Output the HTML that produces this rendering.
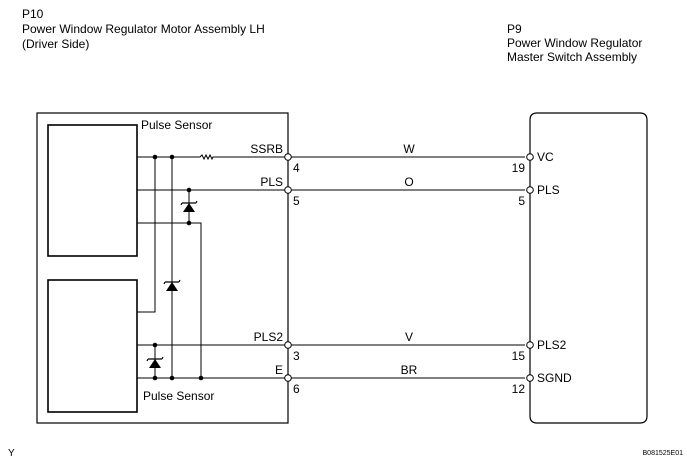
<!DOCTYPE html>
<html><head><style>
body{margin:0;background:#fff;}
svg{display:block;font-family:"Liberation Sans",sans-serif;}
</style></head><body>
<svg width="687" height="464" viewBox="0 0 687 464">
<g font-size="12" fill="#000">
<text x="22" y="18">P10</text>
<text x="22" y="33">Power Window Regulator Motor Assembly LH</text>
<text x="22" y="48">(Driver Side)</text>
<text x="507" y="33">P9</text>
<text x="507" y="47">Power Window Regulator</text>
<text x="507" y="61">Master Switch Assembly</text>
</g>
<g stroke="#000" fill="none" stroke-width="1.2">
<rect x="37" y="113" width="251" height="310"/>
<rect x="48" y="125" width="89" height="131" stroke-width="1.6"/>
<rect x="48" y="280" width="89" height="132" stroke-width="1.6"/>
<path d="M537 113 H640 Q647 113 647 120 V416 Q647 423 640 423 H537 Q530 423 530 416 V120 Q530 113 537 113 Z"/>
</g>
<g stroke="#000" fill="none" stroke-width="1">
<path d="M137 157 H200 l2 -2 l2 4 l2 -4 l2 4 l2 -4 l2 4 l1 -2 H525"/>
<path d="M137 190 H525"/>
<path d="M137 345 H525"/>
<path d="M137 378 H525"/>
<path d="M155 157 V312 H137"/>
<path d="M172 157 V378"/>
<path d="M189 190 V223"/>
<path d="M137 223 H201 V378"/>
<path d="M155 345 V378"/>
</g>
<g fill="#000">
<circle cx="155" cy="157" r="2.3"/><circle cx="172" cy="157" r="2.3"/>
<circle cx="189" cy="190" r="2.3"/><circle cx="189" cy="223" r="2.3"/>
<circle cx="155" cy="345" r="2.3"/><circle cx="155" cy="378" r="2.3"/>
<circle cx="172" cy="378" r="2.3"/><circle cx="201" cy="378" r="2.3"/>
<polygon points="183,212 195,212 189,203"/>
<polygon points="166,291 178,291 172,282"/>
<polygon points="149,368 161,368 155,359"/>
</g>
<g stroke="#000" stroke-width="1.2">
<path d="M182 203 H196 M182 203 l-1 2 M196 203 l1 -2"/>
<path d="M165 282 H179 M165 282 l-1 2 M179 282 l1 -2"/>
<path d="M148 359 H162 M148 359 l-1 2 M162 359 l1 -2"/>
</g>
<g fill="#fff" stroke="#000" stroke-width="1">
<circle cx="288" cy="157" r="3.3"/><circle cx="288" cy="190" r="3.3"/>
<circle cx="288" cy="345" r="3.3"/><circle cx="288" cy="378" r="3.3"/>
<circle cx="530" cy="157" r="3.3"/><circle cx="530" cy="190" r="3.3"/>
<circle cx="530" cy="345" r="3.3"/><circle cx="530" cy="378" r="3.3"/>
</g>
<g font-size="12" fill="#000">
<text x="141" y="129">Pulse Sensor</text>
<text x="143" y="400">Pulse Sensor</text>
<text x="283" y="153" text-anchor="end">SSRB</text>
<text x="283" y="186" text-anchor="end">PLS</text>
<text x="283" y="341" text-anchor="end">PLS2</text>
<text x="283" y="374" text-anchor="end">E</text>
<text x="293" y="172">4</text><text x="293" y="205">5</text>
<text x="293" y="360">3</text><text x="293" y="393">6</text>
<text x="409" y="153" text-anchor="middle">W</text>
<text x="409" y="186" text-anchor="middle">O</text>
<text x="409" y="341" text-anchor="middle">V</text>
<text x="409" y="374" text-anchor="middle">BR</text>
<text x="537" y="161">VC</text><text x="537" y="194">PLS</text>
<text x="537" y="349">PLS2</text><text x="537" y="382">SGND</text>
<text x="525" y="172" text-anchor="end">19</text>
<text x="525" y="205" text-anchor="end">5</text>
<text x="525" y="360" text-anchor="end">15</text>
<text x="525" y="393" text-anchor="end">12</text>
<text x="8" y="456" font-size="10">Y</text>
<text x="683" y="455" font-size="7" text-anchor="end">B081525E01</text>
</g>
</svg>
</body></html>
